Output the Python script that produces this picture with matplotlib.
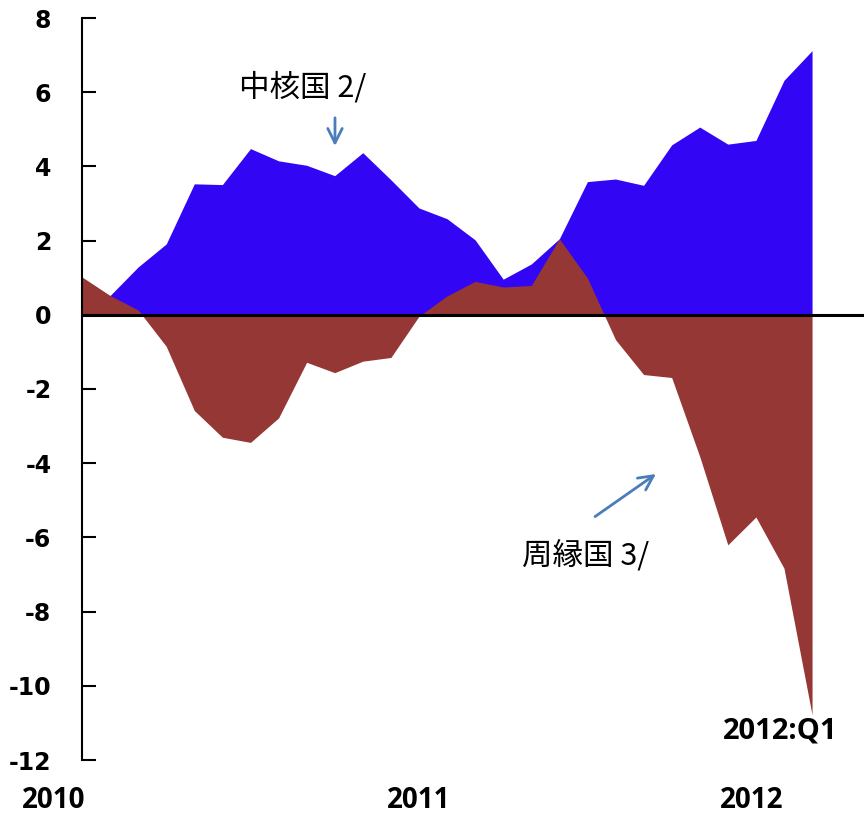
import numpy as np
import matplotlib
matplotlib.use("Agg")
import matplotlib.pyplot as plt
from matplotlib import font_manager

# monthly, 2010:M1 .. 2012:M3
months = np.arange(27)

core = [0.60, 0.52, 1.29, 1.91, 3.53, 3.51, 4.48, 4.15, 4.03, 3.75, 4.37, 3.64, 2.88,
        2.59, 2.02, 0.96, 1.37, 2.05, 3.59, 3.66, 3.49, 4.58, 5.06, 4.60, 4.70, 6.32, 7.12]
periph = [1.02, 0.52, 0.13, -0.85, -2.58, -3.30, -3.44, -2.78, -1.28, -1.56, -1.25, -1.15, -0.04,
          0.51, 0.90, 0.75, 0.79, 2.05, 0.99, -0.67, -1.61, -1.69, -3.82, -6.20, -5.45, -6.83, -10.78]

years = ["2010", "2011", "2012"]
year_pos = [-1.0, 12, 23.85]
yticks = [8, 6, 4, 2, 0, -2, -4, -6, -8, -10, -12]

cjk = ["Noto Sans CJK JP", "DejaVu Sans"]
arrow_col = "#4A7EBB"

names = {f.name for f in font_manager.fontManager.ttflist}
narrow = "Liberation Sans Narrow" if "Liberation Sans Narrow" in names else "Open Sans"

fig = plt.figure(figsize=(8.64, 8.17), dpi=100)
ax = fig.add_axes([82/864, 57/817, 782/864, 742/817])

ax.fill_between(months, 0, core, color="#3305F5", lw=0)
ax.fill_between(months, 0, periph, color="#953735", lw=0)
ax.axhline(0, color="black", lw=2.2)

ax.set_xlim(0, 27.85)
ax.set_ylim(-12, 8)
ax.set_yticks(yticks)
ax.set_yticklabels([str(v) for v in yticks], fontsize=17, fontweight="bold", family="DejaVu Sans")
ax.tick_params(axis="y", direction="in", length=10, width=1.5, pad=22)
ax.set_xticks([])
for s in ["top", "right", "bottom"]:
    ax.spines[s].set_visible(False)
ax.spines["left"].set_linewidth(1.5)

for lab, p in zip(years, year_pos):
    ax.text(p, -13.1, lab, ha="center", va="center",
            fontsize=20, fontweight="bold", family=narrow, clip_on=False)

ax.text(7.87, 6.12, "中核国 2/", ha="center", va="center", fontsize=22, family=cjk)
ax.annotate("", xy=(9.01, 4.55), xytext=(9.01, 5.31),
            arrowprops=dict(arrowstyle="->", color=arrow_col, lw=2, mutation_scale=26,
                            shrinkA=0, shrinkB=0))
ax.text(17.94, -6.49, "周縁国 3/", ha="center", va="center", fontsize=22, family=cjk)
ax.annotate("", xy=(20.44, -4.29), xytext=(18.27, -5.44),
            arrowprops=dict(arrowstyle="->", color=arrow_col, lw=2, mutation_scale=26,
                            shrinkA=0, shrinkB=0))
ax.text(24.86, -11.23, "2012:Q1", ha="center", va="center", fontsize=21,
        fontweight="bold", family=narrow)

fig.savefig("out.png", dpi=100)
